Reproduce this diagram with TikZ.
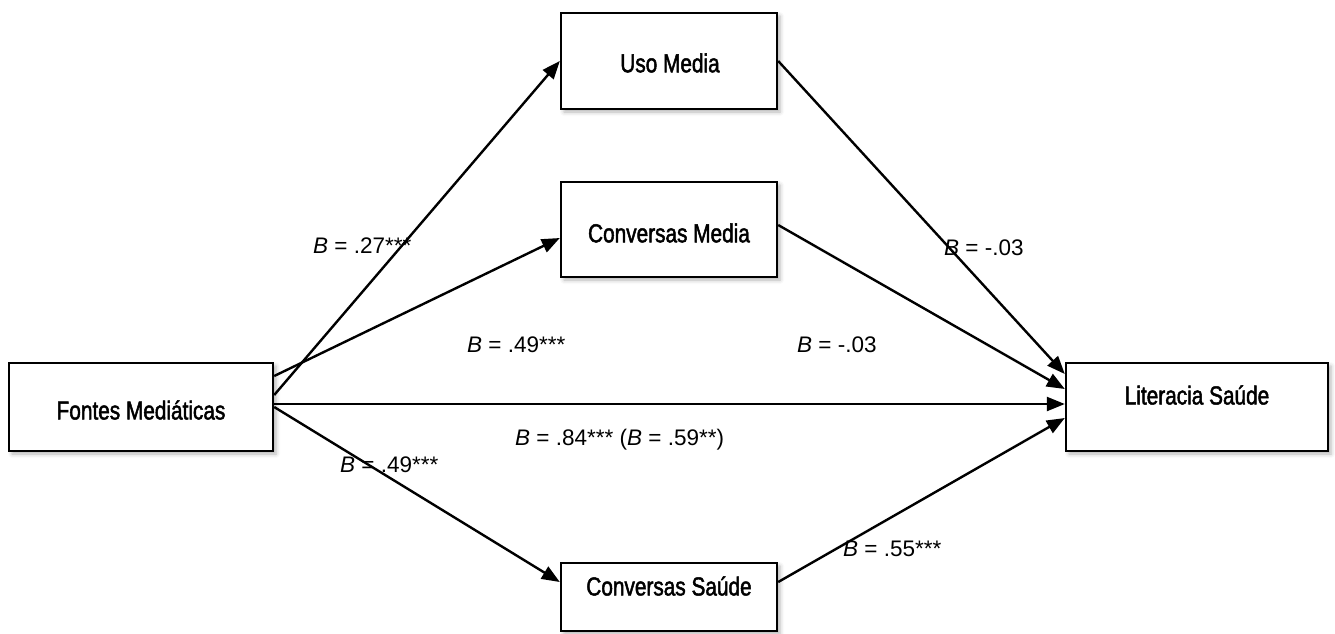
\documentclass[tikz,border=0pt]{standalone}
\usepackage{fontspec}
\setmainfont{Liberation Sans}
\newfontfamily\boxfont[FakeStretch=0.8,FakeBold=1.8]{Liberation Sans}
\usetikzlibrary{arrows.meta,shadows.blur}

\begin{document}
\begin{tikzpicture}[x=1pt,y=-1pt,
  box/.style={draw=black, line width=2.4pt, fill=white, inner sep=0pt,
    blur shadow={shadow xshift=3pt, shadow yshift=-3pt,
                 shadow blur radius=4pt, shadow opacity=30}},
  boxlabel/.style={font=\boxfont\fontsize{26}{30}\selectfont, inner sep=0pt},
  coef/.style={font=\fontsize{22.5}{26}\selectfont, inner sep=0pt, anchor=west},
  link/.style={line width=2.4pt, -{Triangle[length=18pt,width=14pt]}}
]
\useasboundingbox (0,0) rectangle (1335,633);

% variables of the mediation model
\node[box, minimum width=264pt, minimum height=88pt] (fm)  at (141,407)   {};
\node[box, minimum width=216pt, minimum height=96pt] (uso) at (669,61)    {};
\node[box, minimum width=216pt, minimum height=95pt] (cm)  at (669,229.5) {};
\node[box, minimum width=216pt, minimum height=68pt] (cs)  at (669,597)   {};
\node[box, minimum width=262pt, minimum height=88pt] (lit) at (1197,407)  {};

\node[boxlabel] (fmt)  at (141,410)  {Fontes Mediáticas};
\node[boxlabel] (usot) at (670,63)   {Uso Media};
\node[boxlabel] (cmt)  at (669,233)  {Conversas Media};
\node[boxlabel] (cst)  at (669,586)  {Conversas Saúde};
\node[boxlabel] (litt) at (1197,395) {Literacia Saúde};

% paths a (predictor to mediators)
\draw[link] ([yshift=12pt]fm.east) -- (uso.west);
\draw[link] ([yshift=31pt]fm.east) -- ([yshift=-8.5pt]cm.west);
\draw[link] (fm.east) -- ([yshift=15pt]cs.west);
% direct path c'
\draw[link] ([yshift=3pt]fm.east) -- ([yshift=3pt]lit.west);
% paths b (mediators to outcome)
\draw[link] (uso.east) -- ([yshift=33pt]lit.west);
\draw[link] ([yshift=4.5pt]cm.east) -- ([yshift=18pt]lit.west);
\draw[link] ([yshift=15pt]cs.east) -- ([yshift=-11pt]lit.west);

% coefficients
\node[coef] (k1) at (313,246) {\textit{B} = .27***};
\node[coef] (k2) at (467,345) {\textit{B} = .49***};
\node[coef] (k3) at (797,345) {\textit{B} = -.03};
\node[coef] (k4) at (944,248) {\textit{B} = -.03};
\node[coef] (k5) at (515,440) {\textit{B} = .84*** (\textit{B} = .59**)};
\node[coef] (k6) at (340,465) {\textit{B} = .49***};
\node[coef] (k7) at (843,549) {\textit{B} = .55***};
\end{tikzpicture}
\end{document}
